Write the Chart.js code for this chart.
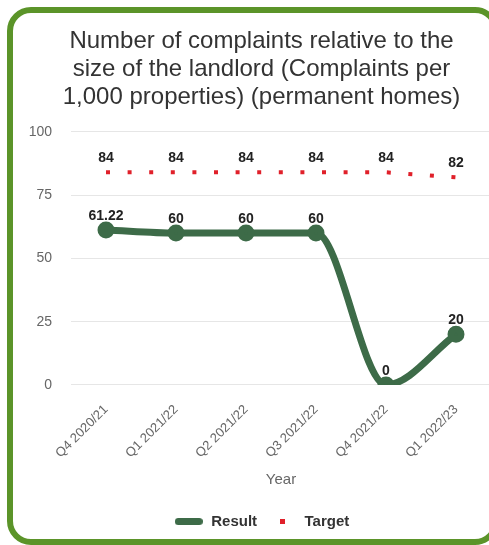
<!DOCTYPE html>
<html>
<head>
<meta charset="utf-8">
<script src="https://cdn.jsdelivr.net/npm/chart.js@4"></script>
<style>
  html, body { margin: 0; padding: 0; background: #fff; overflow: hidden; }
  body { width: 489px; height: 545px; position: relative; }
  .frame {
    position: absolute; left: 7px; top: 7px; width: 492px; height: 538px;
    box-sizing: border-box; border: 6px solid #5b9429; border-radius: 24px;
  }
  .wrap { position: absolute; left: 0; top: 0; width: 503px; height: 545px; }
</style>
</head>
<body>
<div class="frame"></div>
<div class="wrap"><canvas id="complaintsChart"></canvas></div>
<script>
const categories = ['Q4 2020/21', 'Q1 2021/22', 'Q2 2021/22', 'Q3 2021/22', 'Q4 2021/22', 'Q1 2022/23'];
const resultValues = [61.22, 60, 60, 60, 0, 20];
const targetValues = [84, 84, 84, 84, 84, 82];
const yTicks = [0, 25, 50, 75, 100];

const FONT = "'Liberation Sans', Arial, sans-serif";
const GREEN = '#3d6b48';
const RED = '#e0202a';

// little legend swatches
function swatch(w, h, color, round) {
  const c = document.createElement('canvas');
  c.width = w; c.height = h;
  const g = c.getContext('2d');
  g.fillStyle = color;
  g.beginPath();
  if (round) g.roundRect(0, 0, w, h, h / 2); else g.rect(0, 0, w, h);
  g.fill();
  return c;
}
const icons = [swatch(28, 7, GREEN, true), swatch(5, 5, RED, false)];

const valueLabels = {
  id: 'valueLabels',
  afterDatasetsDraw(chart) {
    const ctx = chart.ctx;
    ctx.save();
    ctx.font = 'bold 14px ' + FONT;
    ctx.fillStyle = '#222';
    ctx.textAlign = 'center';
    ctx.textBaseline = 'bottom';
    chart.data.datasets.forEach((ds, i) => {
      chart.getDatasetMeta(i).data.forEach((pt, j) => {
        ctx.fillText(String(ds.data[j]), pt.x, pt.y - 7);
      });
    });
    ctx.restore();
  }
};

const ctx = document.getElementById('complaintsChart');
new Chart(ctx, {
  type: 'line',
  data: {
    labels: categories,
    datasets: [
      {
        label: 'Result',
        data: resultValues,
        borderColor: GREEN,
        backgroundColor: GREEN,
        borderWidth: 7,
        cubicInterpolationMode: 'monotone',
        pointRadius: 5,
        pointBackgroundColor: GREEN,
        pointBorderColor: GREEN
      },
      {
        label: 'Target',
        data: targetValues,
        borderColor: RED,
        backgroundColor: RED,
        borderWidth: 4,
        borderDash: [4, 17.6],
        borderCapStyle: 'butt',
        pointRadius: 0
      }
    ]
  },
  options: {
    responsive: true,
    maintainAspectRatio: false,
    animation: false,
    layout: { padding: { left: 29, right: 9, top: 18, bottom: 6 } },
    plugins: {
      title: {
        display: true,
        text: ['Number of complaints relative to the', 'size of the landlord (Complaints per', '1,000 properties) (permanent homes)'],
        color: '#333',
        font: { family: FONT, size: 24, weight: 'normal', lineHeight: 1.15 },
        padding: { top: 10, bottom: 21 }
      },
      legend: {
        position: 'bottom',
        labels: {
          usePointStyle: true,
          pointStyleWidth: 30,
          color: '#333',
          font: { family: FONT, size: 15, weight: 'bold' },
          generateLabels(chart) {
            const items = Chart.defaults.plugins.legend.labels.generateLabels(chart);
            items.forEach((it, i) => { it.pointStyle = icons[i]; });
            return items;
          }
        }
      },
      tooltip: { enabled: false }
    },
    scales: {
      x: {
        offset: true,
        grid: { display: false },
        border: { display: false },
        ticks: {
          color: '#666',
          font: { family: FONT, size: 13 },
          maxRotation: 45,
          minRotation: 45,
          padding: 9
        },
        title: {
          display: true,
          text: 'Year',
          color: '#666',
          font: { family: FONT, size: 15 },
          padding: { top: 1, bottom: 15 }
        }
      },
      y: {
        min: 0,
        max: 100,
        afterBuildTicks(scale) { scale.ticks = yTicks.map(v => ({ value: v })); },
        afterFit(scale) { scale.width = 42; },
        grid: { color: '#e6e6e6', drawTicks: false },
        border: { display: false },
        ticks: {
          color: '#666',
          font: { family: FONT, size: 14 },
          padding: 19
        }
      }
    }
  },
  plugins: [valueLabels]
});
</script>
</body>
</html>
